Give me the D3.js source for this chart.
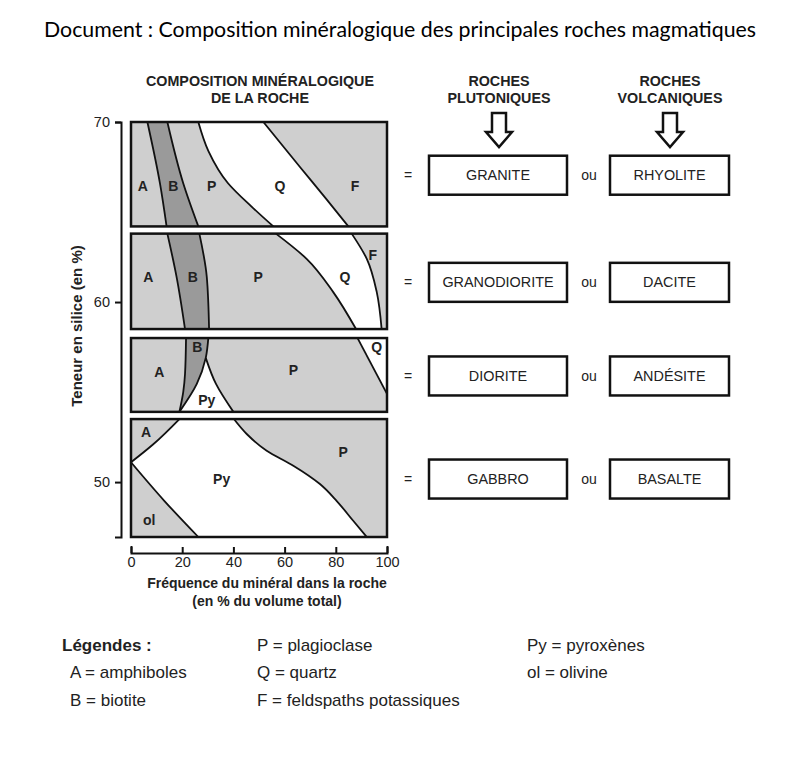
<!DOCTYPE html>
<html>
<head>
<meta charset="utf-8">
<script src="https://cdn.jsdelivr.net/npm/d3@7"></script>
<style>
body { margin: 0; background: #fff; }
svg text { font-family: "Liberation Sans", Arial, sans-serif; fill: #222; }
</style>
</head>
<body>
<svg></svg>
<script>
const svgWidth = 800
const svgHeight = 782

// silica range (top, bottom) of each rock family panel
const panelRanges = [[70, 64.2], [63.8, 58.5], [58.0, 53.9], [53.5, 46.95]]
const plutonicRocks = ['GRANITE', 'GRANODIORITE', 'DIORITE', 'GABBRO']
const volcanicRocks = ['RHYOLITE', 'DACITE', 'ANDÉSITE', 'BASALTE']
const xTicks = [0, 20, 40, 60, 80, 100]
const yTicks = [50, 60, 70]

// boundary curves : [silica %, mineral %]
const graniteAB = [[70, 6.4], [66.6, 11.3], [64.2, 13.9]]
const graniteBP = [[70, 14.2], [66.6, 20.4], [64.2, 26.3]]
const granitePQ = [[70, 26.3], [68.4, 30.2], [66.6, 37.9], [65.3, 47.1], [64.2, 55.6]]
const graniteQF = [[70, 51.7], [67.5, 66], [65.7, 76.4], [64.2, 84.9]]

const granodioriteAB = [[63.8, 14.2], [61.4, 17.8], [58.5, 21.1]]
const granodioriteBP = [[63.8, 26.7], [61.4, 29.6], [58.5, 30.5]]
const granodioritePQ = [[63.8, 56.6], [62.4, 68.6], [60.55, 79], [58.5, 87.9]]
const granodioriteQF = [[63.8, 86.2], [62.4, 92.1], [60.55, 96], [58.5, 97.9]]

const dioriteAB = [[58.0, 21.5], [56.0, 21.1], [55.0, 20.4], [53.9, 18.9]]
const dioriteBPy = [[58.0, 30.2], [56.9, 29.2], [55.45, 25.7], [53.9, 18.9]]
const dioritePyP = [[56.9, 29.2], [55.45, 33.2], [53.9, 40]]
const dioritePQ = [[58.0, 88.5], [54.9, 100]]

const gabbroAPy = [[53.5, 18.9], [52.1, 8.7], [51.1, 0]]
const gabbroOlPy = [[51.1, 0], [48.96, 13], [46.95, 26.3]]
const gabbroPyP = [[53.5, 40.2], [52.67, 45.2], [51.74, 53], [50.91, 63.4], [49.89, 73.8], [48.96, 80.3], [47.85, 86.8], [46.95, 92.1]]

// mineral labels : [text, mineral %, silica %]
const mineralLabels = [
    ['A', 4.6, 66.44], ['B', 16.5, 66.44], ['P', 31.5, 66.44], ['Q', 58.2, 66.44], ['F', 87.5, 66.44],
    ['A', 6.8, 61.39], ['B', 24.1, 61.39], ['P', 49.7, 61.39], ['Q', 83.6, 61.39], ['F', 94.4, 62.64],
    ['A', 11.1, 56.1], ['B', 25.9, 57.53], ['P', 63.4, 56.23], ['Q', 96, 57.53], ['Py', 29.6, 54.56],
    ['A', 5.9, 52.76], ['P', 82.9, 51.65], ['Py', 35.4, 50.17], ['ol', 7.1, 47.88]
]

const legendCols = [
    ['A = amphiboles', 'B = biotite'],
    ['P = plagioclase', 'Q = quartz', 'F = feldspaths potassiques'],
    ['Py = pyroxènes', 'ol = olivine']
]

const lightGray = '#cfcfcf'
const darkGray = '#9a9a9a'

const svg = d3.select('svg').attr('width', svgWidth).attr('height', svgHeight)

const xScale = d3.scaleLinear().domain([0, 100]).range([131, 387])
const yScale = d3.scaleLinear().domain([46.95, 70]).range([537, 122])

const line = d3.line()
    .x(d => xScale(d[1]))
    .y(d => yScale(d[0]))
    .curve(d3.curveMonotoneY)

const rev = arr => arr.slice().reverse()
const area = (...segs) => segs.map((s, i) => {
    const p = line(s)
    return i ? 'L' + p.slice(1) : p
}).join('') + 'Z'

// title
svg.append('text')
    .attr('x', 400).attr('y', 28)
    .attr('text-anchor', 'middle').attr('dominant-baseline', 'central')
    .attr('textLength', 712).attr('lengthAdjust', 'spacingAndGlyphs')
    .style('font-family', '"Comic Sans MS", Lato, sans-serif')
    .style('font-size', '21px').style('fill', '#000')
    .text('Document : Composition minéralogique des principales roches magmatiques')

// panel backgrounds
const panels = svg.append('g')
panels.selectAll('rect.bg')
    .data(panelRanges)
    .enter()
    .append('rect')
    .attr('class', 'bg')
    .attr('x', xScale(0))
    .attr('y', d => yScale(d[0]))
    .attr('width', xScale(100) - xScale(0))
    .attr('height', d => yScale(d[1]) - yScale(d[0]))
    .attr('fill', lightGray)

// filled zones
const zones = [
    [area(graniteAB, rev(graniteBP)), darkGray],
    [area(granitePQ, rev(graniteQF)), '#fff'],
    [area(granodioriteAB, rev(granodioriteBP)), darkGray],
    [area(granodioritePQ, rev(granodioriteQF)), '#fff'],
    [area(dioriteAB, rev(dioriteBPy)), darkGray],
    [area(dioriteBPy.slice(1), rev(dioritePyP)), '#fff'],
    [area(dioritePQ, [[58.0, 100]]), '#fff'],
    [area(gabbroAPy, gabbroOlPy, rev(gabbroPyP)), '#fff']
]
panels.selectAll('path.zone')
    .data(zones)
    .enter()
    .append('path')
    .attr('class', 'zone')
    .attr('d', d => d[0])
    .attr('fill', d => d[1])

// boundary lines
const curves = [graniteAB, graniteBP, granitePQ, graniteQF,
    granodioriteAB, granodioriteBP, granodioritePQ, granodioriteQF,
    dioriteAB, dioriteBPy, dioritePyP, dioritePQ,
    gabbroAPy, gabbroOlPy, gabbroPyP]
panels.selectAll('path.curve')
    .data(curves)
    .enter()
    .append('path')
    .attr('class', 'curve')
    .attr('d', line)
    .attr('fill', 'none')
    .attr('stroke', '#111')
    .attr('stroke-width', 1.8)

panels.selectAll('rect.frame')
    .data(panelRanges)
    .enter()
    .append('rect')
    .attr('class', 'frame')
    .attr('x', xScale(0))
    .attr('y', d => yScale(d[0]))
    .attr('width', xScale(100) - xScale(0))
    .attr('height', d => yScale(d[1]) - yScale(d[0]))
    .attr('fill', 'none')
    .attr('stroke', '#111')
    .attr('stroke-width', 2.5)

panels.selectAll('text.mineral')
    .data(mineralLabels)
    .enter()
    .append('text')
    .attr('class', 'mineral')
    .attr('x', d => xScale(d[1]))
    .attr('y', d => yScale(d[2]))
    .attr('text-anchor', 'middle')
    .attr('dominant-baseline', 'central')
    .style('font-size', '14px').style('font-weight', 'bold')
    .text(d => d[0])

// axes
const xAxis = d3.axisBottom(xScale).tickValues(xTicks).tickSizeInner(-6).tickSizeOuter(-7).tickPadding(4)
const gx = svg.append('g')
    .attr('transform', 'translate(0,553)')
    .call(xAxis)
const yAxis = d3.axisLeft(yScale).tickValues(yTicks).tickSize(6).tickPadding(5)
const gy = svg.append('g')
    .attr('transform', 'translate(121,0)')
    .call(yAxis)
;[gx, gy].forEach(g => {
    g.selectAll('path, line').attr('stroke', '#111').attr('stroke-width', 2)
    g.selectAll('text').style('font-size', '14.5px').style('font-family', '"Liberation Sans", Arial, sans-serif').attr('fill', '#333')
})

svg.append('text')
    .attr('transform', 'translate(76,326) rotate(-90)')
    .attr('text-anchor', 'middle').attr('dominant-baseline', 'central')
    .style('font-size', '15px').style('font-weight', 'bold')
    .text('Teneur en silice (en %)')

svg.selectAll('text.xlabel')
    .data(['Fréquence du minéral dans la roche', '(en % du volume total)'])
    .enter()
    .append('text')
    .attr('x', 267)
    .attr('y', (d, i) => 583 + i * 18)
    .attr('text-anchor', 'middle').attr('dominant-baseline', 'central')
    .style('font-size', '14px').style('font-weight', 'bold')
    .text(d => d)

// headers
const headers = [
    [260, ['COMPOSITION MINÉRALOGIQUE', 'DE LA ROCHE']],
    [499, ['ROCHES', 'PLUTONIQUES']],
    [670, ['ROCHES', 'VOLCANIQUES']]
]
headers.forEach(h => {
    h[1].forEach((t, i) => {
        svg.append('text')
            .attr('x', h[0]).attr('y', 81 + i * 17)
            .attr('text-anchor', 'middle').attr('dominant-baseline', 'central')
            .style('font-size', '14.3px').style('font-weight', 'bold')
            .text(t)
    })
})

// hollow arrows
;[499, 670].forEach(cx => {
    svg.append('path')
        .attr('d', `M${cx - 7},113 V132 H${cx - 13} L${cx},147 L${cx + 13},132 H${cx + 7} V113 Z`)
        .attr('fill', '#fff')
        .attr('stroke', '#111')
        .attr('stroke-width', 2.5)
        .attr('stroke-linejoin', 'miter')
})

// rock names
const rows = svg.selectAll('g.row')
    .data(panelRanges)
    .enter()
    .append('g')
    .attr('class', 'row')
    .attr('transform', d => 'translate(0,' + ((yScale(d[0]) + yScale(d[1])) / 2 + 1) + ')')

rows.append('text').attr('x', 408).attr('dominant-baseline', 'central').attr('text-anchor', 'middle')
    .style('font-size', '14px').text('=')
rows.append('text').attr('x', 589).attr('dominant-baseline', 'central').attr('text-anchor', 'middle')
    .style('font-size', '14px').text('ou')

const boxes = [[429, 138, plutonicRocks], [610, 119, volcanicRocks]]
boxes.forEach(b => {
    rows.append('rect')
        .attr('x', b[0]).attr('y', -19.5)
        .attr('width', b[1]).attr('height', 39)
        .attr('fill', '#fff').attr('stroke', '#111').attr('stroke-width', 2.5)
    rows.append('text')
        .attr('x', b[0] + b[1] / 2)
        .attr('text-anchor', 'middle').attr('dominant-baseline', 'central')
        .style('font-size', '14.4px')
        .text((d, i) => b[2][i])
})

// legend
svg.append('text')
    .attr('x', 62).attr('y', 645).attr('dominant-baseline', 'central')
    .style('font-size', '17px').style('font-weight', 'bold')
    .text('Légendes :')
const legendX = [70, 257, 527]
const legendY = [672, 700]
legendCols.forEach((col, c) => {
    col.forEach((t, r) => {
        svg.append('text')
            .attr('x', legendX[c])
            .attr('y', c === 0 ? legendY[r] : 645 + r * 27.5)
            .attr('dominant-baseline', 'central')
            .style('font-size', '17px')
            .text(t)
    })
})
</script>
</body>
</html>
